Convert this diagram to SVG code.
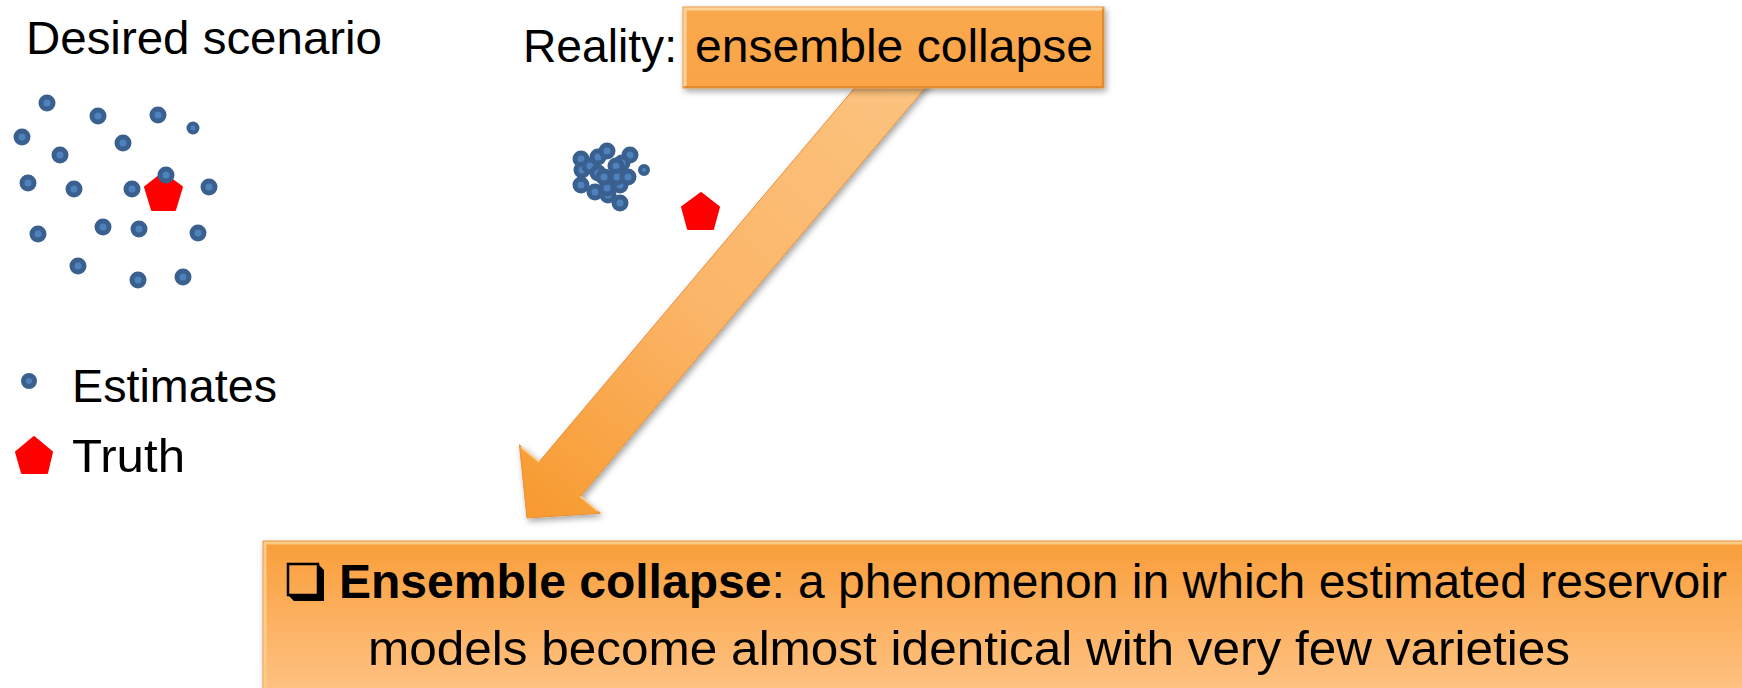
<svg xmlns="http://www.w3.org/2000/svg" xmlns:xlink="http://www.w3.org/1999/xlink" width="1742" height="688" viewBox="0 0 1742 688">
<defs>
<style>
.t{font-family:"Liberation Sans",Arial,sans-serif;font-size:47px;fill:#000}
.b{font-family:"Liberation Sans",Arial,sans-serif;font-size:48px;fill:#000}
.dot{fill:#4F81BD;stroke:#3A6090;stroke-width:5}
.truth{fill:#FF0000;stroke:#FF0000;stroke-width:2;stroke-linejoin:round}
</style>
<linearGradient id="gTop" x1="0" y1="0" x2="0" y2="1">
<stop offset="0" stop-color="#FAA94E"/>
<stop offset="1" stop-color="#F9A446"/>
</linearGradient>
<linearGradient id="gBox" x1="0" y1="0" x2="0" y2="1">
<stop offset="0" stop-color="#F99E3A"/>
<stop offset="1" stop-color="#FEC282"/>
</linearGradient>
<linearGradient id="gArrow" x1="913" y1="60" x2="527" y2="518" gradientUnits="userSpaceOnUse">
<stop offset="0" stop-color="#FCC480"/>
<stop offset="0.55" stop-color="#FBB568"/>
<stop offset="1" stop-color="#F79A2E"/>
</linearGradient>
<filter id="sh" x="-10%" y="-10%" width="120%" height="130%">
<feDropShadow dx="2" dy="3" stdDeviation="3" flood-color="#000" flood-opacity="0.35"/>
</filter>
<circle id="d" r="6" class="dot"/>
</defs>

<g id="desired-scenario">
<text class="t" x="26" y="54" textLength="356" lengthAdjust="spacingAndGlyphs">Desired scenario</text>
<polygon class="truth" points="163,173 182,187 175,210 152,210 145,187"/>
<use xlink:href="#d" x="47" y="103"/>
<use xlink:href="#d" x="98" y="116"/>
<use xlink:href="#d" x="158" y="115"/>
<circle cx="193" cy="128" r="4.5" class="dot" style="stroke-width:4"/>
<use xlink:href="#d" x="22" y="137"/>
<use xlink:href="#d" x="123" y="143"/>
<use xlink:href="#d" x="60" y="155"/>
<use xlink:href="#d" x="28" y="183"/>
<use xlink:href="#d" x="74" y="189"/>
<use xlink:href="#d" x="132" y="189"/>
<use xlink:href="#d" x="166" y="175"/>
<use xlink:href="#d" x="209" y="187"/>
<use xlink:href="#d" x="38" y="234"/>
<use xlink:href="#d" x="103" y="227"/>
<use xlink:href="#d" x="139" y="229"/>
<use xlink:href="#d" x="198" y="233"/>
<use xlink:href="#d" x="78" y="266"/>
<use xlink:href="#d" x="138" y="280"/>
<use xlink:href="#d" x="183" y="277"/>
</g>

<g id="legend">
<circle cx="29" cy="381" r="5.5" class="dot" style="stroke-width:5"/>
<text class="t" x="72" y="402" textLength="205" lengthAdjust="spacingAndGlyphs">Estimates</text>
<polygon class="truth" points="34,437 52,452 47,473 22,473 16,452"/>
<text class="t" x="72" y="472" textLength="113" lengthAdjust="spacingAndGlyphs">Truth</text>
</g>

<g id="collapsed-ensemble">
<use xlink:href="#d" x="581" y="159"/>
<use xlink:href="#d" x="582" y="170"/>
<use xlink:href="#d" x="581" y="185"/>
<use xlink:href="#d" x="590" y="166"/>
<use xlink:href="#d" x="598" y="157"/>
<use xlink:href="#d" x="607" y="151"/>
<use xlink:href="#d" x="630" y="155"/>
<use xlink:href="#d" x="622" y="163"/>
<use xlink:href="#d" x="598" y="173"/>
<use xlink:href="#d" x="595" y="192"/>
<use xlink:href="#d" x="608" y="195"/>
<use xlink:href="#d" x="607" y="188"/>
<use xlink:href="#d" x="620" y="185"/>
<use xlink:href="#d" x="616" y="166"/>
<use xlink:href="#d" x="604" y="177"/>
<use xlink:href="#d" x="617" y="177"/>
<use xlink:href="#d" x="628" y="177"/>
<use xlink:href="#d" x="620" y="203"/>
<circle cx="644" cy="170" r="4" class="dot" style="stroke-width:4"/>
<polygon class="truth" points="701,193 719,207 713,229 688,229 682,207"/>
</g>

<g id="connectors">
<polygon filter="url(#sh)" fill="url(#gArrow)" stroke="#E8913A" stroke-width="1" points="892.9,42.6 934.1,77.4 580.5,496.4 600.4,513.2 527,518 519.4,444.8 539.3,461.6"/>
<polyline fill="none" stroke="#FFE0B0" stroke-width="2" opacity="0.8" points="521,447 539.3,461.6"/>
<polyline fill="none" stroke="#FFE0B0" stroke-width="2" opacity="0.7" points="580.5,496.4 598,511"/>
</g>

<g id="reality">
<text class="t" x="523" y="62" textLength="154" lengthAdjust="spacingAndGlyphs">Reality:</text>
<g filter="url(#sh)">
<rect x="683" y="7" width="421" height="81" fill="url(#gTop)" stroke="#E89440" stroke-width="1"/>
</g>
<polyline fill="none" stroke="#FDD39C" stroke-width="3" points="685,86 685,9 1102,9"/>
<polyline fill="none" stroke="#E38B2E" stroke-width="2" points="685,87 1103,87 1103,9"/>
<text class="t" x="695" y="62" textLength="398" lengthAdjust="spacingAndGlyphs">ensemble collapse</text>
</g>

<g id="definition">
<g filter="url(#sh)">
<rect x="263" y="541" width="1490" height="150" fill="url(#gBox)" stroke="#E89440" stroke-width="1"/>
</g>
<polyline fill="none" stroke="#FCCB8A" stroke-width="3" points="265,690 265,543 1742,543"/>
<rect x="288" y="564" width="30" height="31" fill="none" stroke="#000" stroke-width="2.5"/>
<polygon fill="#000" points="318,564 324,570 324,601 294,601 288,595 318,595"/>
<text class="b" x="339" y="598" textLength="1388" lengthAdjust="spacingAndGlyphs"><tspan font-weight="bold">Ensemble collapse</tspan>: a phenomenon in which estimated reservoir</text>
<text class="b" x="368" y="665" textLength="1202" lengthAdjust="spacingAndGlyphs">models become almost identical with very few varieties</text>
</g>
</svg>
